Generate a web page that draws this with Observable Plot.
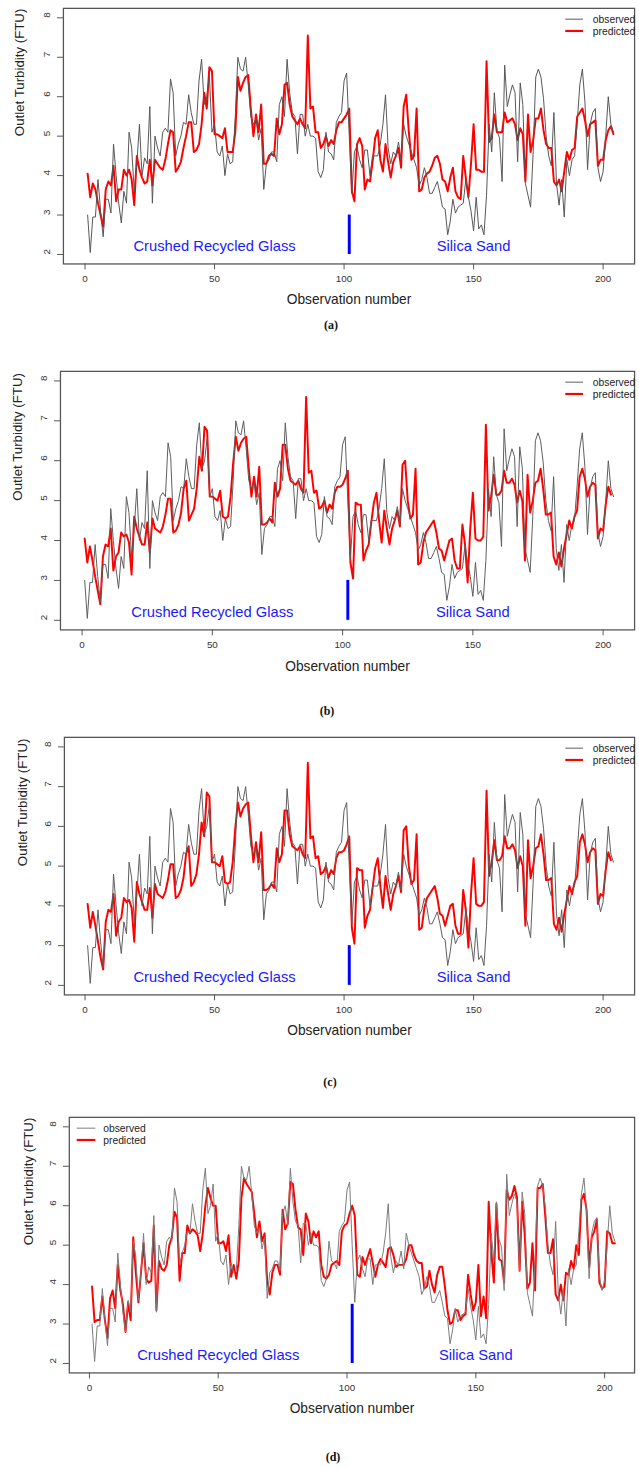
<!DOCTYPE html>
<html><head><meta charset="utf-8">
<script src="https://cdn.jsdelivr.net/npm/d3@7"></script>
<script src="https://cdn.jsdelivr.net/npm/@observablehq/plot@0.6"></script>
<style>
html,body{margin:0;padding:0;background:#fff;width:639px;height:1467px;overflow:hidden;position:relative;}
.panel{position:absolute;left:0;width:639px;overflow:hidden;}
.cap{position:absolute;font-family:"Liberation Serif","Times New Roman",serif;font-weight:bold;font-size:12px;transform:translate(-50%,-50%);color:#111;}
</style></head><body>
<script>
// ---------- data ----------
const observed = [
3.0,2.05,2.95,2.95,3.9,3.1,2.45,3.4,3.4,3.05,
4.8,4.0,3.3,2.8,3.6,3.3,5.1,4.7,3.6,4.3,
5.3,4.0,4.45,4.3,5.75,3.3,5.0,4.7,4.5,5.1,
5.2,5.1,6.45,6.1,4.5,4.8,5.0,5.35,5.3,6.05,
5.6,5.3,5.3,6.4,6.95,5.8,6.0,6.55,5.1,5.3,
4.6,4.5,4.75,4.0,4.55,4.3,4.35,5.5,7.0,6.7,
6.65,7.0,6.3,5.5,5.3,5.45,4.9,5.2,3.65,4.3,
4.4,4.6,4.6,4.35,5.8,6.0,5.5,6.95,6.1,5.6,
5.5,4.55,5.55,5.55,5.0,5.3,5.0,5.0,4.95,4.1,
3.95,4.15,5.1,4.6,4.55,4.4,5.35,5.5,5.6,6.4,
6.6,5.0,3.55,4.6,4.75,4.4,4.2,4.65,4.65,4.0,
4.5,4.5,4.5,4.8,5.3,6.05,4.7,4.3,4.6,4.5,
4.85,4.4,5.3,5.0,4.8,4.6,4.4,4.2,3.75,3.9,
4.2,3.95,3.55,3.55,3.7,3.85,3.55,3.2,3.15,2.5,
2.85,3.4,3.05,3.2,3.25,3.3,3.9,3.45,3.1,2.6,
3.45,2.65,2.75,2.5,3.5,5.3,4.6,6.1,5.15,4.95,
3.85,6.8,5.75,6.05,6.3,6.1,4.35,6.35,5.8,3.8,
3.5,3.2,4.6,6.5,6.7,6.5,5.95,5.0,4.5,4.25,
5.6,3.8,3.25,3.9,2.95,4.4,4.0,4.4,4.5,5.35,
6.3,6.7,5.85,4.15,5.3,5.6,5.7,4.2,3.85,4.1,
5.0,6.0,5.3,5.1];

const predA = [
4.05,3.45,3.8,3.65,3.3,3.0,2.7,3.65,3.85,3.75,
4.25,3.35,3.65,3.65,4.15,4.0,4.15,3.9,3.25,4.5,
4.15,3.95,3.8,3.85,4.4,3.75,4.4,4.3,4.2,4.15,
4.4,4.8,5.15,5.1,4.1,4.2,4.35,4.7,5.0,5.35,
5.35,4.6,4.65,4.8,5.3,6.1,5.7,6.75,6.65,5.05,
5.05,5.0,4.95,5.2,4.6,4.6,4.6,5.1,6.5,6.15,
6.35,6.5,6.55,5.7,5.0,5.55,5.1,5.8,4.3,4.3,
4.5,4.55,4.5,5.45,5.05,5.3,6.3,6.35,5.8,5.5,
5.4,5.3,5.45,5.3,5.2,7.55,5.7,5.75,5.1,5.1,
4.7,4.8,5.0,4.75,4.9,4.8,5.15,5.35,5.35,5.45,
5.55,5.7,3.6,3.35,4.8,4.95,4.75,3.65,3.9,3.85,
4.35,4.95,5.15,4.4,4.1,4.8,4.35,3.95,4.35,4.5,
4.7,4.2,5.75,6.05,5.1,4.4,4.5,5.7,3.6,3.65,
3.95,4.05,4.1,4.25,4.45,4.5,4.3,3.9,3.85,3.6,
3.95,4.2,3.6,3.45,3.4,4.5,3.95,3.45,4.3,5.3,
4.15,4.15,4.1,4.1,6.9,4.85,4.95,5.55,5.1,5.1,
5.1,5.6,5.35,5.4,5.45,5.3,4.9,5.2,5.05,3.85,
5.55,4.6,4.9,5.45,5.45,5.7,5.15,4.8,4.7,4.7,
3.85,3.75,3.9,3.6,4.1,4.6,4.4,4.65,4.7,5.5,
5.6,5.7,5.4,5.0,5.3,5.35,5.4,4.25,4.4,4.4,
4.9,5.15,5.25,5.05];

const predB = [
4.05,3.45,3.85,3.5,3.1,2.75,2.4,3.6,3.9,3.85,
4.3,3.25,3.6,3.7,4.2,4.1,4.15,3.95,3.15,4.6,
4.3,4.1,3.9,3.9,4.45,3.7,4.55,4.3,4.25,4.2,
4.35,4.65,5.05,5.05,4.2,4.25,4.4,4.7,5.3,5.5,
4.5,4.65,4.8,5.3,6.1,5.75,6.85,6.75,5.1,5.1,
5.05,5.0,5.25,4.6,4.55,4.6,5.1,5.95,6.6,6.25,
6.45,6.55,6.6,5.8,5.1,5.6,5.1,5.85,4.4,4.4,
4.45,4.55,4.45,5.45,5.1,5.3,6.4,6.4,5.8,5.5,
5.45,5.4,5.5,5.3,5.2,7.6,5.7,5.75,5.2,5.25,
4.8,4.85,5.0,4.7,4.9,4.8,5.2,5.35,5.35,5.4,
5.55,5.75,3.45,3.05,4.95,4.9,4.9,3.5,3.75,3.9,
4.45,4.95,5.2,4.5,3.95,4.75,4.3,3.9,4.3,4.5,
4.75,4.35,5.9,6.0,5.0,4.55,4.65,5.8,3.4,3.45,
3.95,4.2,4.3,4.4,4.5,4.2,3.8,3.75,3.5,3.75,
4.0,4.05,3.5,3.3,3.3,4.4,3.9,2.95,4.3,5.2,
4.05,4.0,4.0,4.1,6.9,4.75,5.1,5.65,5.15,5.15,
5.25,5.75,5.45,5.45,5.55,5.4,4.95,5.25,5.0,3.5,
5.65,4.7,5.0,5.45,5.5,5.8,5.3,4.65,4.65,4.7,
3.6,3.4,3.7,3.35,3.8,4.15,4.5,4.3,4.6,4.75,
5.6,5.8,5.55,5.1,5.35,5.45,5.4,4.05,4.3,4.25,
4.9,5.35,5.15];

const predC = [
4.05,3.45,3.85,3.5,3.1,2.7,2.4,3.6,3.9,3.85,
4.3,3.25,3.6,3.7,4.2,4.1,4.15,3.95,3.1,4.6,
4.3,4.1,3.9,3.9,4.45,3.7,4.55,4.3,4.25,4.2,
4.35,4.65,5.05,5.05,4.2,4.25,4.4,4.7,5.3,5.5,
4.5,4.6,4.8,5.3,6.1,5.75,6.85,6.75,5.1,5.1,
5.05,5.0,5.25,4.6,4.55,4.6,5.1,5.95,6.6,6.25,
6.45,6.55,6.6,5.8,5.1,5.6,5.1,5.85,4.4,4.4,
4.45,4.55,4.45,5.45,5.1,5.3,6.4,6.4,5.8,5.5,
5.45,5.4,5.5,5.3,5.2,7.6,5.7,5.75,5.2,5.25,
4.8,4.85,5.0,4.7,4.9,4.8,5.2,5.35,5.35,5.4,
5.55,5.75,3.45,3.05,4.95,4.9,4.9,3.45,3.75,3.9,
4.45,4.95,5.2,4.5,3.95,4.75,4.3,3.9,4.3,4.5,
4.75,4.35,5.9,6.0,5.0,4.55,4.65,5.8,3.4,3.45,
3.95,4.2,4.3,4.4,4.5,4.2,3.8,3.75,3.5,3.75,
4.0,4.05,3.5,3.3,3.3,4.4,3.9,2.95,4.3,5.2,
4.05,4.0,4.0,4.1,6.9,4.75,5.1,5.65,5.15,5.15,
5.25,5.75,5.45,5.45,5.55,5.4,4.95,5.25,5.0,3.5,
5.65,4.7,5.0,5.45,5.5,5.8,5.3,4.65,4.65,4.7,
3.55,3.4,3.7,3.35,3.8,4.15,4.5,4.3,4.6,4.75,
5.6,5.8,5.55,5.1,5.35,5.45,5.4,4.05,4.3,4.25,
4.9,5.35,5.15];

const predD = [
3.95,3.05,3.1,3.1,3.7,3.1,2.65,3.65,3.85,3.4,
4.5,3.85,3.5,2.8,3.55,3.1,5.2,4.3,3.55,4.3,
5.05,4.15,4.05,4.1,5.5,3.35,4.6,4.4,4.35,4.5,
5.0,5.2,5.85,5.7,4.1,4.8,4.8,5.5,5.3,5.4,
5.35,5.25,4.85,5.3,6.0,6.45,6.2,6.0,6.0,5.05,
5.05,5.1,4.85,5.25,4.2,4.5,4.15,4.6,6.2,6.7,
6.55,6.45,6.35,5.8,5.2,5.6,5.1,5.3,4.1,3.75,
4.3,4.5,4.5,4.25,5.9,5.4,5.55,6.6,6.55,5.9,
5.45,5.4,4.75,5.8,5.6,5.05,5.35,5.2,5.35,4.5,
4.2,4.15,4.25,4.5,4.55,4.6,4.5,5.35,5.5,5.55,
5.8,6.0,5.75,4.25,4.2,4.7,4.5,4.7,4.9,4.55,
4.2,4.5,4.65,4.55,4.45,4.9,4.95,4.75,4.45,4.5,
4.5,4.5,4.65,5.0,5.0,4.75,4.6,4.55,4.55,3.9,
3.95,4.35,4.0,3.8,4.25,4.45,4.45,3.95,3.35,3.0,
3.05,3.35,3.35,3.1,3.2,3.25,4.25,3.75,3.35,3.55,
4.5,3.2,3.7,3.15,6.1,4.85,4.05,6.05,4.65,4.6,
4.05,6.4,6.15,6.25,6.5,6.2,4.35,6.1,5.25,3.9,
4.05,5.05,3.85,6.45,6.45,6.55,5.7,4.8,4.8,5.15,
3.75,3.6,4.0,3.6,4.3,4.25,4.6,4.4,5.0,4.75,
6.15,6.3,5.9,4.45,5.2,5.35,5.65,4.05,3.9,3.95,
5.35,5.3,5.05,5.05];

const xTicks = [0, 50, 100, 150, 200];
const yTicks = [2, 3, 4, 5, 6, 7, 8];
const regionLabels = [
  {n: 50, v: 2.2, text: "Crushed Recycled Glass"},
  {n: 150, v: 2.2, text: "Silica Sand"}
];
const splitAt = 102;
const seriesNames = ["observed", "predicted"];
const captions = ["(a)", "(b)", "(c)", "(d)"];
const splitTops = [3.0, 3.0, 3.0, 3.5];
const preds = [predA, predB, predC, predD];

// ---------- layout ----------
const layouts = [
  {boxTop: 8,    boxBottom: 268,  left: 64, x0: 86,   x200: 613,   legend: "right", obsColor: "#555", ylabDx: -44, xlabDy: 41, cap: [331, 325]},
  {boxTop: 371,  boxBottom: 634,  left: 61, x0: 83,   x200: 613,   legend: "right", obsColor: "#5c5c5c", ylabDx: -43, xlabDy: 42, cap: [327, 711]},
  {boxTop: 737,  boxBottom: 999,  left: 65, x0: 86,   x200: 613,   legend: "right", obsColor: "#5c5c5c", ylabDx: -42, xlabDy: 41, cap: [330, 1082]},
  {boxTop: 1117, boxBottom: 1377, left: 70, x0: 90.5, x200: 614.5, legend: "left",  obsColor: "#7a7a7a", ylabDx: -41, xlabDy: 41, cap: [333, 1457]}
];

const font = "'Liberation Sans', Arial, Helvetica, sans-serif";
const W = 650, boxRight = 645, mTop = 8, mBottom = 52;

layouts.forEach((L, i) => {
  const pred = preds[i];
  const obsData = observed.map((v, k) => ({n: k + 1, v}));
  const predData = pred.map((v, k) => ({n: k + 1, v}));
  const k = (L.x200 - L.x0) / 200;
  const xmin = (L.left - L.x0) / k;
  const xmax = (boxRight - L.x0) / k;
  const H = (L.boxBottom - L.boxTop) + mTop + mBottom;

  const svg = Plot.plot({
    width: W, height: H,
    marginLeft: L.left, marginRight: W - boxRight, marginTop: mTop, marginBottom: mBottom,
    style: {fontFamily: font, background: "transparent", overflow: "visible"},
    x: {domain: [xmin, xmax]},
    y: {domain: [1.76, 8.24]},
    marks: [
      Plot.axisX({ticks: xTicks, tickSize: 6, tickFormat: () => "", label: null, stroke: "#555"}),
      Plot.axisY({ticks: yTicks, tickSize: 6, tickFormat: () => "", label: null, stroke: "#555"}),
      Plot.text(xTicks, {x: d => d, text: d => String(d), frameAnchor: "bottom", dy: 18, fontSize: 10, fill: "#333"}),
      Plot.text(yTicks, {y: d => d, text: d => String(d), frameAnchor: "left", dx: -17, rotate: -90, fontSize: 10, fill: "#333"}),
      Plot.text(["Observation number"], {frameAnchor: "bottom", dy: L.xlabDy, fontSize: 14, fill: "#222"}),
      Plot.text(["Outlet Turbidity (FTU)"], {frameAnchor: "left", dx: L.ylabDx, rotate: -90, fontSize: 13.5, fill: "#222"}),
      Plot.line(predData, {x: "n", y: "v", stroke: "#ff0000", strokeWidth: 2}),
      Plot.line(obsData, {x: "n", y: "v", stroke: L.obsColor, strokeWidth: 1}),
      Plot.ruleX([splitAt], {y1: 2, y2: splitTops[i], stroke: "#0000ff", strokeWidth: 3}),
      Plot.text(regionLabels, {x: "n", y: "v", text: "text", fill: "#1a1aff", fontSize: 15}),
      Plot.frame({stroke: "#555", strokeWidth: 1.3})
    ]
  });

  // legend
  const s = d3.select(svg);
  const g = s.append("g").attr("font-family", font).attr("font-size", 10.5).attr("fill", "#222").attr("text-anchor", "start");
  const lx1 = L.legend === "right" ? 575 : 78;
  const lx2 = L.legend === "right" ? 593 : 97;
  const tx = L.legend === "right" ? 603 : 105;
  const ys = [mTop + 11.5, mTop + 23.5];
  const cols = [L.obsColor, "#ff0000"];
  const sw = [1, 2.2];
  seriesNames.forEach((name, j) => {
    g.append("line").attr("x1", lx1).attr("x2", lx2).attr("y1", ys[j]).attr("y2", ys[j])
      .attr("stroke", cols[j]).attr("stroke-width", sw[j]);
    g.append("text").attr("x", tx).attr("y", ys[j]).attr("dy", "0.35em").attr("text-anchor", "start").text(name);
  });

  const div = document.createElement("div");
  div.className = "panel";
  div.style.top = (L.boxTop - mTop) + "px";
  div.style.height = H + "px";
  div.appendChild(svg);
  document.body.appendChild(div);

  const cap = document.createElement("div");
  cap.className = "cap";
  cap.style.left = L.cap[0] + "px";
  cap.style.top = L.cap[1] + "px";
  cap.textContent = captions[i];
  document.body.appendChild(cap);
});
</script>
</body></html>
